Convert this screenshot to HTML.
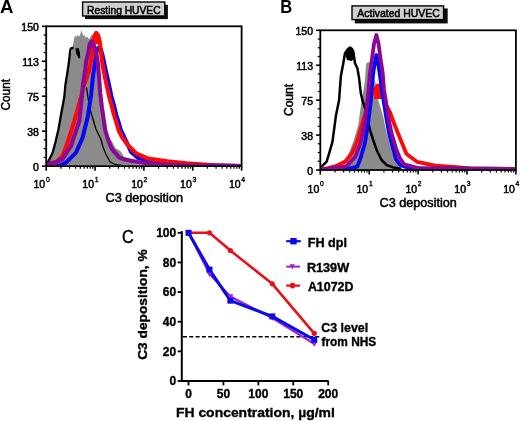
<!DOCTYPE html><html><head><meta charset="utf-8"><style>html,body{margin:0;padding:0;background:#fff;width:520px;height:421px;overflow:hidden}svg{display:block;filter:blur(0.3px)}</style></head><body><svg width="520" height="421" viewBox="0 0 520 421">
<defs><filter id="bl" x="-5%" y="-20%" width="110%" height="140%"><feGaussianBlur stdDeviation="0.5"/></filter><clipPath id="ca"><rect x="46.2" y="26.3" width="195.4" height="139.0"/></clipPath><clipPath id="cb"><rect x="320.3" y="30.3" width="195.6" height="138.9"/></clipPath></defs>
<rect width="520" height="421" fill="#fff"/>
<g clip-path="url(#ca)">
<polygon points="46.5,166.0 47.5,163.0 50.0,158.0 53.5,152.0 56.0,143.0 59.0,130.0 61.5,115.0 64.5,100.0 66.0,88.0 67.7,73.5 69.5,61.6 71.5,52.0 73.0,45.0 73.8,40.2 74.3,37.3 75.5,36.0 76.5,37.0 77.5,34.3 78.5,36.5 80.0,35.5 81.4,30.2 82.5,33.5 83.5,36.0 84.5,35.3 85.8,37.8 87.3,36.5 88.5,38.5 89.7,39.0 91.5,34.3 93.0,38.0 95.0,48.0 97.0,62.0 99.0,78.0 101.0,96.0 103.5,112.0 106.0,129.3 109.0,137.0 112.6,142.6 115.4,148.0 117.6,149.3 121.2,151.8 124.2,157.6 127.0,157.5 130.8,161.4 135.0,164.0 145.0,165.5 160.0,166.0" fill="#8b8b8b" />
<polyline points="46.5,165.5 48.5,160.9 52.7,152.6 55.5,142.0 58.5,129.3 61.0,115.0 64.3,97.0 65.4,85.0 67.0,75.0 68.5,65.0 69.5,57.0 70.3,50.0 71.0,48.3 72.6,48.0" fill="none" stroke="#000" stroke-width="2.3" stroke-linejoin="round" stroke-linecap="round" />
<polygon points="75.4,48.6 78.6,48.0 79.9,52.0 80.3,58.3 78.6,58.2 76.2,53.5" fill="#000" />
<polyline points="86.6,88.0 87.5,94.0 89.0,104.0 91.0,112.6 93.5,121.0 96.0,129.3 100.9,139.3 103.0,147.0 105.9,154.2 110.0,161.7 115.0,164.5 125.0,165.8" fill="none" stroke="#000" stroke-width="1.3" stroke-linejoin="round" stroke-linecap="round" />
<polyline points="55.0,166.0 60.0,165.5 66.0,162.6 76.0,152.6 82.6,137.6 87.6,117.6 91.0,96.0 93.0,76.0 94.5,66.0 96.0,56.0 97.0,50.0 99.0,47.5 101.0,49.5 102.5,55.0 103.6,60.0 105.7,70.0 108.0,80.0 109.7,88.0 111.4,96.0 113.9,105.0 116.4,115.0 118.9,123.0 121.0,130.0 124.8,138.0 131.0,152.0 138.0,158.0 150.0,161.5 170.0,164.0 200.0,165.3 241.0,166.0" fill="none" stroke="#0808f4" stroke-width="4.0" stroke-linejoin="round" stroke-linecap="round" />
<polyline points="48.0,165.5 56.0,162.6 62.6,155.9 67.6,142.6 74.3,121.0 81.0,97.0 84.0,85.0 87.5,75.0 89.6,68.5 91.0,60.0 92.5,52.0 93.3,44.0 94.0,37.0 96.2,32.8 98.4,36.0 99.8,42.0 100.8,50.0 101.8,60.0 103.5,70.0 105.5,80.0 107.3,88.0 109.0,96.0 111.5,105.0 114.0,115.0 116.5,123.0 118.5,130.0 122.0,137.0 127.0,144.0 136.5,153.7 148.0,158.5 167.3,161.4 186.5,163.3 200.0,164.3 215.0,165.3 241.0,166.0" fill="none" stroke="#ff0808" stroke-width="4.1" stroke-linejoin="round" stroke-linecap="round" />
<polygon points="94.0,44.0 94.4,36.0 96.3,32.0 98.3,35.0 100.0,44.0" fill="#ff0808" />
<polyline points="47.0,165.0 49.3,163.4 56.0,162.0 62.6,159.2 71.0,146.0 79.3,121.0 81.8,97.0 83.2,82.7 85.4,68.5 86.1,61.6 88.5,52.1 89.6,44.3 91.5,41.4 94.6,47.0 96.6,55.0 97.7,62.0 99.0,76.0 100.2,93.0 102.0,108.0 103.5,118.0 105.2,130.0 107.6,138.0 110.0,145.0 112.6,150.0 115.4,153.0 119.2,157.5 125.0,159.5 138.5,162.3 155.0,164.0 180.0,165.3 241.0,166.0" fill="none" stroke="#8a0896" stroke-width="4.1" stroke-linejoin="round" stroke-linecap="round" />
</g>
<rect x="46.2" y="26.3" width="195.39999999999998" height="139.79999999999998" fill="none" stroke="#000" stroke-width="1.8"/>
<line x1="46.20" y1="166.1" x2="46.20" y2="170.7" stroke="#000" stroke-width="1.6"/>
<line x1="60.91" y1="166.1" x2="60.91" y2="168.7" stroke="#000" stroke-width="1.2"/>
<line x1="69.51" y1="166.1" x2="69.51" y2="168.7" stroke="#000" stroke-width="1.2"/>
<line x1="75.61" y1="166.1" x2="75.61" y2="168.7" stroke="#000" stroke-width="1.2"/>
<line x1="80.34" y1="166.1" x2="80.34" y2="168.7" stroke="#000" stroke-width="1.2"/>
<line x1="84.21" y1="166.1" x2="84.21" y2="168.7" stroke="#000" stroke-width="1.2"/>
<line x1="87.48" y1="166.1" x2="87.48" y2="168.7" stroke="#000" stroke-width="1.2"/>
<line x1="90.32" y1="166.1" x2="90.32" y2="168.7" stroke="#000" stroke-width="1.2"/>
<line x1="92.81" y1="166.1" x2="92.81" y2="168.7" stroke="#000" stroke-width="1.2"/>
<line x1="95.05" y1="166.1" x2="95.05" y2="170.7" stroke="#000" stroke-width="1.6"/>
<line x1="109.76" y1="166.1" x2="109.76" y2="168.7" stroke="#000" stroke-width="1.2"/>
<line x1="118.36" y1="166.1" x2="118.36" y2="168.7" stroke="#000" stroke-width="1.2"/>
<line x1="124.46" y1="166.1" x2="124.46" y2="168.7" stroke="#000" stroke-width="1.2"/>
<line x1="129.19" y1="166.1" x2="129.19" y2="168.7" stroke="#000" stroke-width="1.2"/>
<line x1="133.06" y1="166.1" x2="133.06" y2="168.7" stroke="#000" stroke-width="1.2"/>
<line x1="136.33" y1="166.1" x2="136.33" y2="168.7" stroke="#000" stroke-width="1.2"/>
<line x1="139.17" y1="166.1" x2="139.17" y2="168.7" stroke="#000" stroke-width="1.2"/>
<line x1="141.66" y1="166.1" x2="141.66" y2="168.7" stroke="#000" stroke-width="1.2"/>
<line x1="143.90" y1="166.1" x2="143.90" y2="170.7" stroke="#000" stroke-width="1.6"/>
<line x1="158.61" y1="166.1" x2="158.61" y2="168.7" stroke="#000" stroke-width="1.2"/>
<line x1="167.21" y1="166.1" x2="167.21" y2="168.7" stroke="#000" stroke-width="1.2"/>
<line x1="173.31" y1="166.1" x2="173.31" y2="168.7" stroke="#000" stroke-width="1.2"/>
<line x1="178.04" y1="166.1" x2="178.04" y2="168.7" stroke="#000" stroke-width="1.2"/>
<line x1="181.91" y1="166.1" x2="181.91" y2="168.7" stroke="#000" stroke-width="1.2"/>
<line x1="185.18" y1="166.1" x2="185.18" y2="168.7" stroke="#000" stroke-width="1.2"/>
<line x1="188.02" y1="166.1" x2="188.02" y2="168.7" stroke="#000" stroke-width="1.2"/>
<line x1="190.51" y1="166.1" x2="190.51" y2="168.7" stroke="#000" stroke-width="1.2"/>
<line x1="192.75" y1="166.1" x2="192.75" y2="170.7" stroke="#000" stroke-width="1.6"/>
<line x1="207.46" y1="166.1" x2="207.46" y2="168.7" stroke="#000" stroke-width="1.2"/>
<line x1="216.06" y1="166.1" x2="216.06" y2="168.7" stroke="#000" stroke-width="1.2"/>
<line x1="222.16" y1="166.1" x2="222.16" y2="168.7" stroke="#000" stroke-width="1.2"/>
<line x1="226.89" y1="166.1" x2="226.89" y2="168.7" stroke="#000" stroke-width="1.2"/>
<line x1="230.76" y1="166.1" x2="230.76" y2="168.7" stroke="#000" stroke-width="1.2"/>
<line x1="234.03" y1="166.1" x2="234.03" y2="168.7" stroke="#000" stroke-width="1.2"/>
<line x1="236.87" y1="166.1" x2="236.87" y2="168.7" stroke="#000" stroke-width="1.2"/>
<line x1="239.36" y1="166.1" x2="239.36" y2="168.7" stroke="#000" stroke-width="1.2"/>
<line x1="241.6" y1="166.1" x2="241.6" y2="170.7" stroke="#000" stroke-width="1.6"/>
<line x1="42.0" y1="166.10" x2="46.2" y2="166.10" stroke="#000" stroke-width="1.6"/>
<line x1="43.6" y1="157.36" x2="46.2" y2="157.36" stroke="#000" stroke-width="1.2"/>
<line x1="43.6" y1="148.62" x2="46.2" y2="148.62" stroke="#000" stroke-width="1.2"/>
<line x1="43.6" y1="139.89" x2="46.2" y2="139.89" stroke="#000" stroke-width="1.2"/>
<line x1="42.0" y1="131.15" x2="46.2" y2="131.15" stroke="#000" stroke-width="1.6"/>
<line x1="43.6" y1="122.41" x2="46.2" y2="122.41" stroke="#000" stroke-width="1.2"/>
<line x1="43.6" y1="113.67" x2="46.2" y2="113.67" stroke="#000" stroke-width="1.2"/>
<line x1="43.6" y1="104.94" x2="46.2" y2="104.94" stroke="#000" stroke-width="1.2"/>
<line x1="42.0" y1="96.20" x2="46.2" y2="96.20" stroke="#000" stroke-width="1.6"/>
<line x1="43.6" y1="87.46" x2="46.2" y2="87.46" stroke="#000" stroke-width="1.2"/>
<line x1="43.6" y1="78.73" x2="46.2" y2="78.73" stroke="#000" stroke-width="1.2"/>
<line x1="43.6" y1="69.99" x2="46.2" y2="69.99" stroke="#000" stroke-width="1.2"/>
<line x1="42.0" y1="61.25" x2="46.2" y2="61.25" stroke="#000" stroke-width="1.6"/>
<line x1="43.6" y1="52.51" x2="46.2" y2="52.51" stroke="#000" stroke-width="1.2"/>
<line x1="43.6" y1="43.78" x2="46.2" y2="43.78" stroke="#000" stroke-width="1.2"/>
<line x1="43.6" y1="35.04" x2="46.2" y2="35.04" stroke="#000" stroke-width="1.2"/>
<line x1="42.0" y1="26.30" x2="46.2" y2="26.30" stroke="#000" stroke-width="1.6"/>
<text x="38.900000000000006" y="170.60" text-anchor="end" font-size="10.5" stroke="#000" stroke-width="0.5" font-family="Liberation Sans, sans-serif">0</text>
<text x="38.900000000000006" y="135.65" text-anchor="end" font-size="10.5" stroke="#000" stroke-width="0.5" font-family="Liberation Sans, sans-serif">38</text>
<text x="38.900000000000006" y="100.70" text-anchor="end" font-size="10.5" stroke="#000" stroke-width="0.5" font-family="Liberation Sans, sans-serif">75</text>
<text x="38.900000000000006" y="65.75" text-anchor="end" font-size="10.5" stroke="#000" stroke-width="0.5" font-family="Liberation Sans, sans-serif">113</text>
<text x="38.900000000000006" y="30.80" text-anchor="end" font-size="10.5" stroke="#000" stroke-width="0.5" font-family="Liberation Sans, sans-serif">150</text>
<text x="45.20" y="188.1" text-anchor="end" font-size="10.5" stroke="#000" stroke-width="0.5" font-family="Liberation Sans, sans-serif">10</text>
<text x="45.90" y="181.5" font-size="6.8" stroke="#000" stroke-width="0.35" font-family="Liberation Sans, sans-serif">0</text>
<text x="94.05" y="188.1" text-anchor="end" font-size="10.5" stroke="#000" stroke-width="0.5" font-family="Liberation Sans, sans-serif">10</text>
<text x="94.75" y="181.5" font-size="6.8" stroke="#000" stroke-width="0.35" font-family="Liberation Sans, sans-serif">1</text>
<text x="142.90" y="188.1" text-anchor="end" font-size="10.5" stroke="#000" stroke-width="0.5" font-family="Liberation Sans, sans-serif">10</text>
<text x="143.60" y="181.5" font-size="6.8" stroke="#000" stroke-width="0.35" font-family="Liberation Sans, sans-serif">2</text>
<text x="191.75" y="188.1" text-anchor="end" font-size="10.5" stroke="#000" stroke-width="0.5" font-family="Liberation Sans, sans-serif">10</text>
<text x="192.45" y="181.5" font-size="6.8" stroke="#000" stroke-width="0.35" font-family="Liberation Sans, sans-serif">3</text>
<text x="240.60" y="188.1" text-anchor="end" font-size="10.5" stroke="#000" stroke-width="0.5" font-family="Liberation Sans, sans-serif">10</text>
<text x="241.30" y="181.5" font-size="6.8" stroke="#000" stroke-width="0.35" font-family="Liberation Sans, sans-serif">4</text>
<g clip-path="url(#cb)">
<polygon points="330.0,170.0 340.0,169.0 345.0,166.5 348.3,155.0 353.3,141.6 358.3,125.0 361.6,100.0 363.5,90.0 365.0,80.0 366.0,64.0 368.0,62.0 370.0,63.0 372.0,68.0 375.0,80.0 377.0,92.0 378.2,100.0 383.2,116.6 386.6,133.3 391.6,146.6 396.5,160.0 398.7,167.0 405.0,170.0" fill="#8b8b8b" />
<polyline points="320.5,168.5 322.5,165.7 326.7,161.6 329.2,153.2 332.5,141.6 335.8,116.6 339.1,100.0 340.8,76.6 343.3,63.3 345.0,53.3 348.0,49.0 350.0,47.5 352.0,49.0 353.3,51.6 355.0,63.3 357.4,68.3 359.1,78.3 360.8,93.2 362.4,100.0 365.0,108.0 370.0,130.0 373.2,140.0 376.6,150.0 381.6,160.0 386.6,165.0 393.2,167.4 400.0,168.5" fill="none" stroke="#000" stroke-width="2.5" stroke-linejoin="round" stroke-linecap="round" />
<polygon points="345.0,54.0 347.0,50.0 350.0,47.5 353.0,50.0 354.0,58.0 352.0,61.0 347.0,60.0" fill="#000" />
<polyline points="322.0,169.0 328.0,168.0 336.7,165.8 345.3,161.5 352.0,153.0 357.2,141.0 361.0,128.0 364.5,116.0 368.0,104.0 371.0,96.0 374.0,90.0 377.8,85.5 381.0,88.0 383.5,96.0 385.7,104.4 389.9,112.0 394.8,125.3 400.0,138.3 406.5,154.0 417.0,161.8 435.3,165.7 453.6,167.0 470.0,168.5 515.0,169.0" fill="none" stroke="#ff0808" stroke-width="3.8" stroke-linejoin="round" stroke-linecap="round" />
<polygon points="374.5,88.0 377.0,84.3 380.5,84.3 383.0,89.0 383.6,99.0 374.0,99.0" fill="#ff0808" />
<polyline points="340.0,169.5 350.0,168.3 357.2,166.7 360.6,158.0 365.0,142.7 368.3,122.0 371.0,100.0 371.5,89.8 372.4,79.9 374.3,65.6 376.4,55.0 378.5,65.6 380.6,79.9 381.8,89.8 383.5,100.0 386.0,116.0 389.0,133.0 392.5,146.0 396.0,159.2 400.0,165.0 410.0,168.5 515.0,169.0" fill="none" stroke="#0808f4" stroke-width="3.8" stroke-linejoin="round" stroke-linecap="round" />
<polyline points="322.0,169.5 330.0,168.5 340.0,167.5 347.0,165.8 355.5,156.4 360.6,142.7 365.0,122.0 367.5,100.0 368.5,90.0 370.0,72.7 372.0,58.5 374.0,44.0 376.4,35.0 378.6,44.0 380.5,58.5 382.7,72.7 384.0,90.0 385.7,100.0 388.2,116.6 391.6,133.3 396.5,150.0 400.0,158.3 404.0,164.4 420.0,168.5 515.0,169.0" fill="none" stroke="#8a0896" stroke-width="3.8" stroke-linejoin="round" stroke-linecap="round" />
</g>
<rect x="320.3" y="30.3" width="195.59999999999997" height="139.7" fill="none" stroke="#000" stroke-width="1.8"/>
<line x1="320.30" y1="170.0" x2="320.30" y2="174.6" stroke="#000" stroke-width="1.6"/>
<line x1="335.02" y1="170.0" x2="335.02" y2="172.6" stroke="#000" stroke-width="1.2"/>
<line x1="343.63" y1="170.0" x2="343.63" y2="172.6" stroke="#000" stroke-width="1.2"/>
<line x1="349.74" y1="170.0" x2="349.74" y2="172.6" stroke="#000" stroke-width="1.2"/>
<line x1="354.48" y1="170.0" x2="354.48" y2="172.6" stroke="#000" stroke-width="1.2"/>
<line x1="358.35" y1="170.0" x2="358.35" y2="172.6" stroke="#000" stroke-width="1.2"/>
<line x1="361.63" y1="170.0" x2="361.63" y2="172.6" stroke="#000" stroke-width="1.2"/>
<line x1="364.46" y1="170.0" x2="364.46" y2="172.6" stroke="#000" stroke-width="1.2"/>
<line x1="366.96" y1="170.0" x2="366.96" y2="172.6" stroke="#000" stroke-width="1.2"/>
<line x1="369.20" y1="170.0" x2="369.20" y2="174.6" stroke="#000" stroke-width="1.6"/>
<line x1="383.92" y1="170.0" x2="383.92" y2="172.6" stroke="#000" stroke-width="1.2"/>
<line x1="392.53" y1="170.0" x2="392.53" y2="172.6" stroke="#000" stroke-width="1.2"/>
<line x1="398.64" y1="170.0" x2="398.64" y2="172.6" stroke="#000" stroke-width="1.2"/>
<line x1="403.38" y1="170.0" x2="403.38" y2="172.6" stroke="#000" stroke-width="1.2"/>
<line x1="407.25" y1="170.0" x2="407.25" y2="172.6" stroke="#000" stroke-width="1.2"/>
<line x1="410.53" y1="170.0" x2="410.53" y2="172.6" stroke="#000" stroke-width="1.2"/>
<line x1="413.36" y1="170.0" x2="413.36" y2="172.6" stroke="#000" stroke-width="1.2"/>
<line x1="415.86" y1="170.0" x2="415.86" y2="172.6" stroke="#000" stroke-width="1.2"/>
<line x1="418.10" y1="170.0" x2="418.10" y2="174.6" stroke="#000" stroke-width="1.6"/>
<line x1="432.82" y1="170.0" x2="432.82" y2="172.6" stroke="#000" stroke-width="1.2"/>
<line x1="441.43" y1="170.0" x2="441.43" y2="172.6" stroke="#000" stroke-width="1.2"/>
<line x1="447.54" y1="170.0" x2="447.54" y2="172.6" stroke="#000" stroke-width="1.2"/>
<line x1="452.28" y1="170.0" x2="452.28" y2="172.6" stroke="#000" stroke-width="1.2"/>
<line x1="456.15" y1="170.0" x2="456.15" y2="172.6" stroke="#000" stroke-width="1.2"/>
<line x1="459.43" y1="170.0" x2="459.43" y2="172.6" stroke="#000" stroke-width="1.2"/>
<line x1="462.26" y1="170.0" x2="462.26" y2="172.6" stroke="#000" stroke-width="1.2"/>
<line x1="464.76" y1="170.0" x2="464.76" y2="172.6" stroke="#000" stroke-width="1.2"/>
<line x1="467.00" y1="170.0" x2="467.00" y2="174.6" stroke="#000" stroke-width="1.6"/>
<line x1="481.72" y1="170.0" x2="481.72" y2="172.6" stroke="#000" stroke-width="1.2"/>
<line x1="490.33" y1="170.0" x2="490.33" y2="172.6" stroke="#000" stroke-width="1.2"/>
<line x1="496.44" y1="170.0" x2="496.44" y2="172.6" stroke="#000" stroke-width="1.2"/>
<line x1="501.18" y1="170.0" x2="501.18" y2="172.6" stroke="#000" stroke-width="1.2"/>
<line x1="505.05" y1="170.0" x2="505.05" y2="172.6" stroke="#000" stroke-width="1.2"/>
<line x1="508.33" y1="170.0" x2="508.33" y2="172.6" stroke="#000" stroke-width="1.2"/>
<line x1="511.16" y1="170.0" x2="511.16" y2="172.6" stroke="#000" stroke-width="1.2"/>
<line x1="513.66" y1="170.0" x2="513.66" y2="172.6" stroke="#000" stroke-width="1.2"/>
<line x1="515.9" y1="170.0" x2="515.9" y2="174.6" stroke="#000" stroke-width="1.6"/>
<line x1="316.1" y1="170.00" x2="320.3" y2="170.00" stroke="#000" stroke-width="1.6"/>
<line x1="317.7" y1="161.27" x2="320.3" y2="161.27" stroke="#000" stroke-width="1.2"/>
<line x1="317.7" y1="152.54" x2="320.3" y2="152.54" stroke="#000" stroke-width="1.2"/>
<line x1="317.7" y1="143.81" x2="320.3" y2="143.81" stroke="#000" stroke-width="1.2"/>
<line x1="316.1" y1="135.07" x2="320.3" y2="135.07" stroke="#000" stroke-width="1.6"/>
<line x1="317.7" y1="126.34" x2="320.3" y2="126.34" stroke="#000" stroke-width="1.2"/>
<line x1="317.7" y1="117.61" x2="320.3" y2="117.61" stroke="#000" stroke-width="1.2"/>
<line x1="317.7" y1="108.88" x2="320.3" y2="108.88" stroke="#000" stroke-width="1.2"/>
<line x1="316.1" y1="100.15" x2="320.3" y2="100.15" stroke="#000" stroke-width="1.6"/>
<line x1="317.7" y1="91.42" x2="320.3" y2="91.42" stroke="#000" stroke-width="1.2"/>
<line x1="317.7" y1="82.69" x2="320.3" y2="82.69" stroke="#000" stroke-width="1.2"/>
<line x1="317.7" y1="73.96" x2="320.3" y2="73.96" stroke="#000" stroke-width="1.2"/>
<line x1="316.1" y1="65.23" x2="320.3" y2="65.23" stroke="#000" stroke-width="1.6"/>
<line x1="317.7" y1="56.49" x2="320.3" y2="56.49" stroke="#000" stroke-width="1.2"/>
<line x1="317.7" y1="47.76" x2="320.3" y2="47.76" stroke="#000" stroke-width="1.2"/>
<line x1="317.7" y1="39.03" x2="320.3" y2="39.03" stroke="#000" stroke-width="1.2"/>
<line x1="316.1" y1="30.30" x2="320.3" y2="30.30" stroke="#000" stroke-width="1.6"/>
<text x="313.0" y="174.50" text-anchor="end" font-size="10.5" stroke="#000" stroke-width="0.5" font-family="Liberation Sans, sans-serif">0</text>
<text x="313.0" y="139.57" text-anchor="end" font-size="10.5" stroke="#000" stroke-width="0.5" font-family="Liberation Sans, sans-serif">38</text>
<text x="313.0" y="104.65" text-anchor="end" font-size="10.5" stroke="#000" stroke-width="0.5" font-family="Liberation Sans, sans-serif">75</text>
<text x="313.0" y="69.73" text-anchor="end" font-size="10.5" stroke="#000" stroke-width="0.5" font-family="Liberation Sans, sans-serif">113</text>
<text x="313.0" y="34.80" text-anchor="end" font-size="10.5" stroke="#000" stroke-width="0.5" font-family="Liberation Sans, sans-serif">150</text>
<text x="319.30" y="193.0" text-anchor="end" font-size="10.5" stroke="#000" stroke-width="0.5" font-family="Liberation Sans, sans-serif">10</text>
<text x="320.00" y="186.4" font-size="6.8" stroke="#000" stroke-width="0.35" font-family="Liberation Sans, sans-serif">0</text>
<text x="368.20" y="193.0" text-anchor="end" font-size="10.5" stroke="#000" stroke-width="0.5" font-family="Liberation Sans, sans-serif">10</text>
<text x="368.90" y="186.4" font-size="6.8" stroke="#000" stroke-width="0.35" font-family="Liberation Sans, sans-serif">1</text>
<text x="417.10" y="193.0" text-anchor="end" font-size="10.5" stroke="#000" stroke-width="0.5" font-family="Liberation Sans, sans-serif">10</text>
<text x="417.80" y="186.4" font-size="6.8" stroke="#000" stroke-width="0.35" font-family="Liberation Sans, sans-serif">2</text>
<text x="466.00" y="193.0" text-anchor="end" font-size="10.5" stroke="#000" stroke-width="0.5" font-family="Liberation Sans, sans-serif">10</text>
<text x="466.70" y="186.4" font-size="6.8" stroke="#000" stroke-width="0.35" font-family="Liberation Sans, sans-serif">3</text>
<text x="514.90" y="193.0" text-anchor="end" font-size="10.5" stroke="#000" stroke-width="0.5" font-family="Liberation Sans, sans-serif">10</text>
<text x="515.60" y="186.4" font-size="6.8" stroke="#000" stroke-width="0.35" font-family="Liberation Sans, sans-serif">4</text>
<text transform="translate(0.06,13.10) scale(1.0364,1)" font-size="18" font-weight="bold" fill="#000" font-family="Liberation Sans, sans-serif">A</text>
<text transform="translate(280.18,12.70) scale(0.9182,1)" font-size="18" font-weight="bold" fill="#000" font-family="Liberation Sans, sans-serif">B</text>
<text transform="translate(122.09,242.60) scale(0.9091,1)" font-size="18" font-weight="normal" fill="#000" font-family="Liberation Sans, sans-serif" stroke="#000" stroke-width="0.4">C</text>
<text transform="translate(9.90,110.60) rotate(-90) scale(0.9906,1)" font-size="12" font-weight="normal" fill="#000" font-family="Liberation Sans, sans-serif" stroke="#000" stroke-width="0.5">Count</text>
<text transform="translate(293.10,116.10) rotate(-90) scale(1.0094,1)" font-size="12" font-weight="normal" fill="#000" font-family="Liberation Sans, sans-serif" stroke="#000" stroke-width="0.5">Count</text>
<text transform="translate(105.50,202.20) scale(1.0575,1)" font-size="12" font-weight="normal" fill="#000" font-family="Liberation Sans, sans-serif" stroke="#000" stroke-width="0.5">C3 deposition</text>
<text transform="translate(379.60,206.70) scale(1.0534,1)" font-size="12" font-weight="normal" fill="#000" font-family="Liberation Sans, sans-serif" stroke="#000" stroke-width="0.5">C3 deposition</text>
<rect x="85.0" y="4.8" width="82.9" height="14.3" fill="#111" filter="url(#bl)"/>
<rect x="82.60000000000001" y="2.0" width="82.19999999999999" height="13.999999999999998" fill="#d0d0d0" stroke="#000" stroke-width="1.4"/>
<text transform="translate(87.10,13.80) scale(0.9973,1)" font-size="10.3" font-weight="normal" fill="#000" font-family="Liberation Sans, sans-serif" stroke="#000" stroke-width="0.5">Resting HUVEC</text>
<rect x="354.8" y="8.4" width="92.89999999999998" height="14.999999999999998" fill="#111" filter="url(#bl)"/>
<rect x="352.0" y="5.9" width="91.6" height="13.700000000000001" fill="#d0d0d0" stroke="#000" stroke-width="1.4"/>
<text transform="translate(357.30,17.20) scale(1.0061,1)" font-size="10.4" font-weight="normal" fill="#000" font-family="Liberation Sans, sans-serif" stroke="#000" stroke-width="0.5">Activated HUVEC</text>
<line x1="181.8" y1="231.1" x2="181.8" y2="382" stroke="#000" stroke-width="2"/>
<line x1="180.8" y1="381" x2="328.6" y2="381" stroke="#000" stroke-width="2"/>
<line x1="177.6" y1="381.00" x2="182" y2="381.00" stroke="#000" stroke-width="1.8"/>
<text x="176.2" y="385.20" text-anchor="end" font-size="12" font-weight="bold" fill="#000" stroke="#000" stroke-width="0.35" font-family="Liberation Sans, sans-serif" >0</text>
<line x1="177.6" y1="351.36" x2="182" y2="351.36" stroke="#000" stroke-width="1.8"/>
<text x="176.2" y="355.56" text-anchor="end" font-size="12" font-weight="bold" fill="#000" stroke="#000" stroke-width="0.35" font-family="Liberation Sans, sans-serif" >20</text>
<line x1="177.6" y1="321.72" x2="182" y2="321.72" stroke="#000" stroke-width="1.8"/>
<text x="176.2" y="325.92" text-anchor="end" font-size="12" font-weight="bold" fill="#000" stroke="#000" stroke-width="0.35" font-family="Liberation Sans, sans-serif" >40</text>
<line x1="177.6" y1="292.08" x2="182" y2="292.08" stroke="#000" stroke-width="1.8"/>
<text x="176.2" y="296.28" text-anchor="end" font-size="12" font-weight="bold" fill="#000" stroke="#000" stroke-width="0.35" font-family="Liberation Sans, sans-serif" >60</text>
<line x1="177.6" y1="262.44" x2="182" y2="262.44" stroke="#000" stroke-width="1.8"/>
<text x="176.2" y="266.64" text-anchor="end" font-size="12" font-weight="bold" fill="#000" stroke="#000" stroke-width="0.35" font-family="Liberation Sans, sans-serif" >80</text>
<line x1="177.6" y1="232.80" x2="182" y2="232.80" stroke="#000" stroke-width="1.8"/>
<text x="176.2" y="237.00" text-anchor="end" font-size="12" font-weight="bold" fill="#000" stroke="#000" stroke-width="0.35" font-family="Liberation Sans, sans-serif" >100</text>
<line x1="188.50" y1="381" x2="188.50" y2="385.4" stroke="#000" stroke-width="1.8"/>
<text x="188.50" y="397.6" text-anchor="middle" font-size="12" font-weight="bold" fill="#000" stroke="#000" stroke-width="0.35" font-family="Liberation Sans, sans-serif" >0</text>
<line x1="223.43" y1="381" x2="223.43" y2="385.4" stroke="#000" stroke-width="1.8"/>
<text x="223.43" y="397.6" text-anchor="middle" font-size="12" font-weight="bold" fill="#000" stroke="#000" stroke-width="0.35" font-family="Liberation Sans, sans-serif" >50</text>
<line x1="258.35" y1="381" x2="258.35" y2="385.4" stroke="#000" stroke-width="1.8"/>
<text x="258.35" y="397.6" text-anchor="middle" font-size="12" font-weight="bold" fill="#000" stroke="#000" stroke-width="0.35" font-family="Liberation Sans, sans-serif" >100</text>
<line x1="293.27" y1="381" x2="293.27" y2="385.4" stroke="#000" stroke-width="1.8"/>
<text x="293.27" y="397.6" text-anchor="middle" font-size="12" font-weight="bold" fill="#000" stroke="#000" stroke-width="0.35" font-family="Liberation Sans, sans-serif" >150</text>
<line x1="328.20" y1="381" x2="328.20" y2="385.4" stroke="#000" stroke-width="1.8"/>
<text x="328.20" y="397.6" text-anchor="middle" font-size="12" font-weight="bold" fill="#000" stroke="#000" stroke-width="0.35" font-family="Liberation Sans, sans-serif" >200</text>
<text transform="translate(175.95,417.30) scale(1.0480,1)" font-size="13.3" font-weight="bold" fill="#000" font-family="Liberation Sans, sans-serif" stroke="#000" stroke-width="0.35">FH concentration, µg/ml</text>
<text transform="translate(146.80,359.80) rotate(-90) scale(1.0308,1)" font-size="13.3" font-weight="bold" fill="#000" font-family="Liberation Sans, sans-serif" stroke="#000" stroke-width="0.35">C3 deposition, %</text>
<line x1="183" y1="336.8" x2="320" y2="336.8" stroke="#000" stroke-width="1.6" stroke-dasharray="4,2.3"/>
<polyline points="188.5,232.8 209.5,232.8 230.4,250.6 272.3,283.8 314.2,333.3" fill="none" stroke="#e8101a" stroke-width="2.6" stroke-linejoin="round" stroke-linecap="round" />
<polyline points="188.5,232.8 209.5,273.9 230.4,296.5 272.3,318.0 314.2,343.9" fill="none" stroke="#9a22d8" stroke-width="2.2" stroke-linejoin="round" stroke-linecap="round" />
<polyline points="188.5,232.8 209.5,269.6 230.4,300.7 272.3,316.4 314.2,339.7" fill="none" stroke="#0a0ae6" stroke-width="3.0" stroke-linejoin="round" stroke-linecap="round" />
<circle cx="188.50" cy="232.80" r="2.6" fill="#e8101a"/>
<circle cx="209.46" cy="232.80" r="2.6" fill="#e8101a"/>
<circle cx="230.41" cy="250.58" r="2.6" fill="#e8101a"/>
<circle cx="272.32" cy="283.78" r="2.6" fill="#e8101a"/>
<circle cx="314.23" cy="333.28" r="2.6" fill="#e8101a"/>
<polygon points="185.50,230.60 191.50,230.60 188.50,235.60" fill="#9a22d8"/>
<polygon points="206.46,271.65 212.46,271.65 209.46,276.65" fill="#9a22d8"/>
<polygon points="227.41,294.33 233.41,294.33 230.41,299.33" fill="#9a22d8"/>
<polygon points="269.32,315.81 275.32,315.81 272.32,320.81" fill="#9a22d8"/>
<polygon points="311.23,341.75 317.23,341.75 314.23,346.75" fill="#9a22d8"/>
<rect x="185.50" y="229.80" width="6" height="6" fill="#0a0ae6"/>
<rect x="206.46" y="266.55" width="6" height="6" fill="#0a0ae6"/>
<rect x="227.41" y="297.68" width="6" height="6" fill="#0a0ae6"/>
<rect x="269.32" y="313.38" width="6" height="6" fill="#0a0ae6"/>
<rect x="311.23" y="336.65" width="6" height="6" fill="#0a0ae6"/>
<line x1="286.2" y1="241.2" x2="300.8" y2="241.2" stroke="#0a0ae6" stroke-width="2.2"/>
<rect x="290.3" y="238" width="6.4" height="6.4" fill="#0a0ae6"/>
<line x1="286.2" y1="266.6" x2="300" y2="266.6" stroke="#9a22d8" stroke-width="2.0"/>
<polygon points="289.8,264.2 294.8,264.2 292.3,269.6" fill="#9a22d8"/>
<line x1="286.2" y1="285.6" x2="300" y2="285.6" stroke="#e8101a" stroke-width="2.2"/>
<circle cx="292.5" cy="285.6" r="2.8" fill="#e8101a"/>
<text transform="translate(307.78,246.50) scale(1.0189,1)" font-size="12.4" font-weight="bold" fill="#000" font-family="Liberation Sans, sans-serif" stroke="#000" stroke-width="0.35">FH dpl</text>
<text transform="translate(306.88,271.50) scale(1.0225,1)" font-size="12.4" font-weight="bold" fill="#000" font-family="Liberation Sans, sans-serif" stroke="#000" stroke-width="0.35">R139W</text>
<text transform="translate(307.90,291.30) scale(1.0022,1)" font-size="12.4" font-weight="bold" fill="#000" font-family="Liberation Sans, sans-serif" stroke="#000" stroke-width="0.35">A1072D</text>
<text transform="translate(321.20,332.00) scale(1.0109,1)" font-size="12.3" font-weight="bold" fill="#000" font-family="Liberation Sans, sans-serif" stroke="#000" stroke-width="0.35">C3 level</text>
<text transform="translate(321.50,346.00) scale(0.9667,1)" font-size="12.3" font-weight="bold" fill="#000" font-family="Liberation Sans, sans-serif" stroke="#000" stroke-width="0.35">from NHS</text>
</svg></body></html>
